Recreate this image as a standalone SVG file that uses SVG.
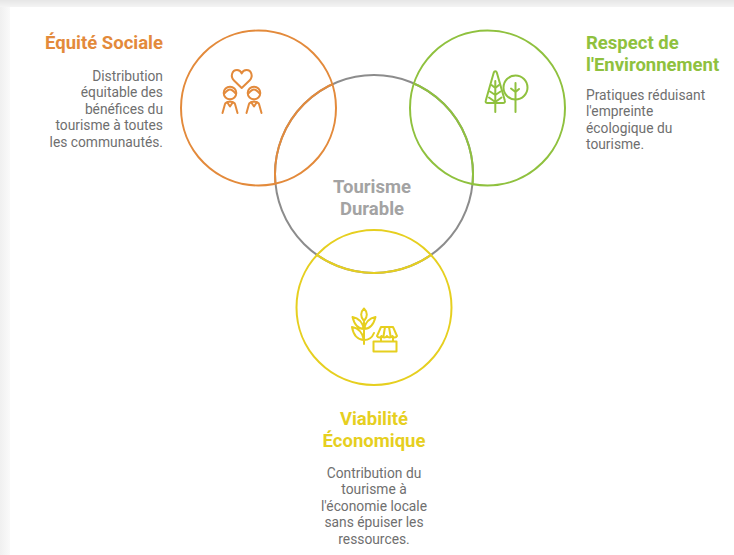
<svg xmlns="http://www.w3.org/2000/svg" width="734" height="555" viewBox="0 0 734 555">
<defs>
<linearGradient id="gt" x1="0" y1="0" x2="0" y2="1"><stop offset="0" stop-color="#e6e6e6"/><stop offset="1" stop-color="#f4f4f4"/></linearGradient>
<linearGradient id="gl" x1="0" y1="0" x2="1" y2="0"><stop offset="0" stop-color="#f0f0f0"/><stop offset="1" stop-color="#fafafa"/></linearGradient>
<clipPath id="co"><circle cx="258.500" cy="108" r="78.500"/></clipPath>
<clipPath id="cg"><circle cx="487.500" cy="108" r="78.500"/></clipPath>
<clipPath id="cy"><circle cx="374" cy="307.500" r="78.500"/></clipPath>
</defs>
<style>
text{font-family:Roboto,"Liberation Sans",sans-serif}
.t{font-size:18.500px;font-weight:700}
.b{font-size:13.800px;fill:#6f6f6f}
.e{text-anchor:end}.m{text-anchor:middle}
.c{fill:none;stroke-width:2}
.i{fill:none;stroke-width:2;stroke-linecap:round;stroke-linejoin:round}
.o{stroke:#e38a3b}.g{stroke:#8fc13e}.y{stroke:#e6cf1f}
</style>
<rect width="734" height="555" fill="#fff"/>
<rect width="10" height="555" fill="url(#gl)"/>
<rect width="734" height="7" fill="url(#gt)"/>
<g id="connectors"/>
<g id="node-durable">
<circle class="c" cx="374" cy="174" r="99" stroke="#8c8c8c"/>
<text class="m t" x="372" y="192.500" fill="#a3a3a3">Tourisme</text>
<text class="m t" x="372" y="214.500" fill="#a3a3a3">Durable</text>
</g>
<g id="node-equite">
<circle class="c o" cx="374" cy="174" r="99" clip-path="url(#co)"/>
<circle class="c o" cx="258.500" cy="108" r="77.500"/>
<g class="i o">
<path d="M241.700 88L234 80.500C230 76.500 232 70 237 70C239.500 70 240.900 71.500 241.700 73.500C242.500 71.500 244 70 246.500 70C251.500 70 253.500 76.500 249.500 80.500Z"/>
<circle cx="230" cy="93" r="6.300"/><path d="M224.500 93.500C226.500 91 228.500 89.500 230 89.500C231.500 89.500 233.500 91 235.500 93.500"/>
<path d="M222.500 113L225 104C225.500 102.500 227 102 230 101.500C233 102 234.500 102.500 235 104L237.500 113M227 102L230 106.500L233 102"/>
<circle cx="254" cy="93" r="6.300"/><path d="M248.500 93.500C250.500 91 252.500 89.500 254 89.500C255.500 89.500 257.500 91 259.500 93.500"/>
<path d="M246.500 113L249 104C249.500 102.500 251 102 254 101.500C257 102 258.500 102.500 259 104L261.500 113M251 102L254 106.500L257 102"/>
</g>
<text class="t e" x="163" y="48.500" fill="#e38a3b">Équité Sociale</text>
<text class="b e" x="163" y="80.500">Distribution</text>
<text class="b e" x="163" y="97">équitable des</text>
<text class="b e" x="163" y="113.500">bénéfices du</text>
<text class="b e" x="163" y="130">tourisme à toutes</text>
<text class="b e" x="163" y="146.500">les communautés.</text>
</g>
<g id="node-environnement">
<circle class="c g" cx="374" cy="174" r="99" clip-path="url(#cg)"/>
<circle class="c g" cx="487.500" cy="108" r="77.500"/>
<g class="i g">
<path d="M493.800 72.500L485.800 100.500C485.300 102 486 103 487.500 103H503C504.500 103 505.300 102 504.800 100.500L496.800 72.500C496.300 70.800 494.300 70.800 493.800 72.500Z"/>
<path d="M495.300 81V112M495.300 88L491.500 85M495.300 88L499 85M495.300 95L490 91.500M495.300 95L500.500 91.500M495.300 102L489 97.500M495.300 102L501.500 97.500"/>
<circle cx="515.500" cy="87.500" r="12"/>
<path d="M515.500 83V112M515.500 92L511 88.500M515.500 92L519 89"/>
</g>
<text class="t" x="586" y="48.500" fill="#8fc13e">Respect de</text>
<text class="t" x="586" y="70.500" fill="#8fc13e">l'Environnement</text>
<text class="b" x="586" y="99.500">Pratiques réduisant</text>
<text class="b" x="586" y="116">l'empreinte</text>
<text class="b" x="586" y="132.500">écologique du</text>
<text class="b" x="586" y="149">tourisme.</text>
</g>
<g id="node-viabilite">
<circle class="c y" cx="374" cy="174" r="99" clip-path="url(#cy)"/>
<circle class="c y" cx="374" cy="307.500" r="77.500"/>
<g class="i y">
<path d="M364 344V322M364 308.500C360.500 312 360 317 364 321C368 317 367.500 312 364 308.500ZM364 329C359 329 354.500 325 352.500 317C358 318 362.500 322 364 329ZM364 329C369 329 373.500 325 375.500 317C370 318 365.500 322 364 329ZM364 340C358.500 340 353.500 336 352 327C358 328 362.500 332 364 340ZM364 340C368 340 372 338 374 333"/>
<path d="M381 341V337M393 341V337M381 327H393L397 336C396 338 393.500 338 392.500 336C391.500 338 388 338 387 336C386 338 382.500 338 381.500 336C380.500 338 378 338 377 336ZM385 327L383.500 336M389 327L390.500 336"/>
<path d="M373.500 341.500H396.500V351.500H373.500Z"/>
</g>
<text class="t m" x="374" y="424.500" fill="#e6cf1f">Viabilité</text>
<text class="t m" x="374" y="446.500" fill="#e6cf1f">Économique</text>
<text class="b m" x="374" y="477.500">Contribution du</text>
<text class="b m" x="374" y="493.500">tourisme à</text>
<text class="b m" x="374" y="510.500">l'économie locale</text>
<text class="b m" x="374" y="527">sans épuiser les</text>
<text class="b m" x="374" y="543.500">ressources.</text>
</g>
</svg>
